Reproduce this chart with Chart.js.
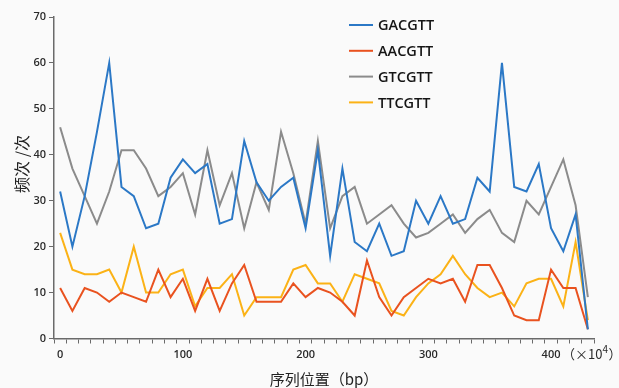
<!DOCTYPE html>
<html>
<head>
<meta charset="utf-8">
<script src="https://cdn.jsdelivr.net/npm/chart.js@4.4.1/dist/chart.umd.min.js"></script>
<style>
  html, body { margin: 0; padding: 0; background: #fafafa; }
  #wrap { width: 619px; height: 388px; }
</style>
</head>
<body>
<div id="wrap"><canvas id="freqChart" width="619" height="388"></canvas></div>
<script>
// ------ DATA ------
const positions = ['0','10','20','30','40','50','60','70','80','90',
  '100','110','120','130','140','150','160','170','180','190',
  '200','210','220','230','240','250','260','270','280','290',
  '300','310','320','330','340','350','360','370','380','390',
  '400','410','420','430'];

const gacgtt = [32,20,31,45,60,33,31,24,25,35, 39,36,38,25,26,43,34,30,33,35,
                24,41,18,37,21,19,25,18,19,30, 25,31,25,26,35,32,60,33,32,38,
                24,19,27,2];
const aacgtt = [11,6,11,10,8,10,9,8,15,9, 13,6,13,6,12,16,8,8,8,12,
                9,11,10,8,5,17,9,5,9,11, 13,12,13,8,16,16,11,5,4,4,
                15,11,11,2];
const gtcgtt = [46,37,31,25,32,41,41,37,31,33, 36,27,41,29,36,24,34,28,45,36,
                25,43,24,31,33,25,27,29,25,22, 23,25,27,23,26,28,23,21,30,27,
                33,39,29,9];
const ttcgtt = [23,15,14,14,15,10,20,10,10,14, 15,7,11,11,14,5,9,9,9,15,
                16,12,12,8,14,13,12,6,5,9, 12,14,18,14,11,9,10,7,12,13,
                13,7,21,4];

const yTicks = [0,10,20,30,40,50,60,70];

const COLORS = {
  blue:   '#2b78c6',
  red:    '#e9521f',
  gray:   '#8b8b8b',
  yellow: '#fbb216',
};

const AXIS_COLOR = '#6a6a6a';
const TEXT_COLOR = '#2a2a2a';
const CJK = '"Noto Sans CJK SC", sans-serif';

// legend + y title + (×10^4) drawn by hand
const extrasPlugin = {
  id: 'extras',
  afterDraw(chart) {
    const { ctx, chartArea, scales } = chart;
    ctx.save();

    // legend inside plot, upper right
    const lx = chartArea.left + 295;
    let ly = chartArea.top + 8;
    ctx.font = '600 14.5px "Open Sans", sans-serif';
    ctx.textBaseline = 'middle';
    chart.data.datasets.forEach(ds => {
      ctx.strokeStyle = ds.borderColor;
      ctx.lineWidth = 2;
      ctx.beginPath();
      ctx.moveTo(lx, ly);
      ctx.lineTo(lx + 24, ly);
      ctx.stroke();
      ctx.fillStyle = '#151515';
      ctx.fillText(ds.label, lx + 29, ly + 1);
      ly += 25.8;
    });

    // y axis title
    ctx.save();
    ctx.translate(22, chartArea.top + 147);
    ctx.rotate(-Math.PI / 2);
    ctx.textAlign = 'center';
    ctx.font = '16px ' + CJK;
    ctx.fillStyle = '#222';
    ctx.fillText('频次 /次', 0, 0);
    ctx.restore();

    // unit after the 400 label
    const xp = scales.x.getPixelForValue(40);
    const ty = chartArea.bottom + 16;
    ctx.fillStyle = TEXT_COLOR;
    ctx.textAlign = 'left';
    ctx.font = '13px ' + CJK;
    ctx.fillText('（×10', xp + 11, ty);
    const w = ctx.measureText('（×10').width;
    ctx.font = '10px ' + CJK;
    ctx.fillText('4', xp + 11 + w, ty - 5);
    ctx.font = '13px ' + CJK;
    ctx.fillText('）', xp + 11 + w + 6, ty);
    ctx.restore();
  }
};

function mkSet(label, data, color) {
  return {
    label,
    data,
    borderColor: color,
    backgroundColor: color,
    borderWidth: 2,
    pointRadius: 0,
    tension: 0,
    fill: false
  };
}

new Chart(document.getElementById('freqChart'), {
  type: 'line',
  data: {
    labels: positions,
    datasets: [
      mkSet('GACGTT', gacgtt, COLORS.blue),
      mkSet('AACGTT', aacgtt, COLORS.red),
      mkSet('GTCGTT', gtcgtt, COLORS.gray),
      mkSet('TTCGTT', ttcgtt, COLORS.yellow),
    ]
  },
  options: {
    responsive: false,
    animation: false,
    devicePixelRatio: 1,
    layout: { padding: { top: 17, right: 25, left: 0, bottom: 0 } },
    plugins: {
      legend: { display: false },
      tooltip: { enabled: false }
    },
    scales: {
      x: {
        type: 'category',
        offset: true,
        grid: { offset: true, drawOnChartArea: false, tickLength: 5, color: AXIS_COLOR, lineWidth: 1 },
        border: { color: AXIS_COLOR, width: 1.5 },
        ticks: {
          autoSkip: false,
          maxRotation: 0,
          color: TEXT_COLOR,
          padding: 5,
          font: { size: 11, weight: '600', family: '"Open Sans", sans-serif' },
          callback(v) {
            const l = this.getLabelForValue(v);
            return Number(l) % 100 === 0 ? l : '';
          }
        },
        title: {
          display: true,
          text: '序列位置（bp）',
          color: '#222',
          font: { size: 15, family: CJK },
          padding: { top: 1, bottom: 0 }
        },
        afterFit(s) { s.height = 49.5; }
      },
      y: {
        min: 0,
        max: 70,
        afterBuildTicks(s) { s.ticks = yTicks.map(v => ({ value: v })); },
        grid: { drawOnChartArea: false, tickLength: 5, color: AXIS_COLOR, lineWidth: 1 },
        border: { color: AXIS_COLOR, width: 1.5 },
        ticks: {
          color: TEXT_COLOR,
          padding: 3,
          font: { size: 11, weight: '600', family: '"Open Sans", sans-serif' }
        },
        afterFit(s) { s.width = 54; }
      }
    }
  },
  plugins: [extrasPlugin]
});
</script>
</body>
</html>
